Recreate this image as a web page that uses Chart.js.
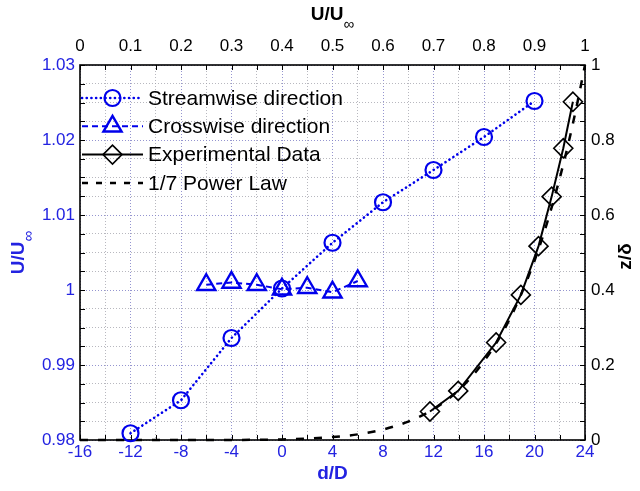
<!DOCTYPE html>
<html>
<head>
<meta charset="utf-8">
<script src="https://cdn.jsdelivr.net/npm/chart.js@4.4.0/dist/chart.umd.min.js"></script>
<style>
  html, body { margin: 0; padding: 0; background: #ffffff; }
  #wrap { width: 640px; height: 491px; }
</style>
</head>
<body>
<div id="wrap"><canvas id="chart" width="640" height="491"></canvas></div>
<script>
// Streamwise / crosswise velocity ratio against d/D (bottom & left axes)
const streamD = [-12, -8, -4, 0, 4, 8, 12, 16, 20];
const streamU = [0.9809, 0.9853, 0.9936, 1.0002, 1.0063, 1.0117, 1.0160, 1.0204, 1.0252];

const crossD = [-6, -4, -2, 0, 2, 4, 6];
const crossU = [1.0007, 1.0010, 1.0007, 1.0001, 1.0003, 0.9997, 1.0012];

// Boundary-layer profile z/delta against U/U_inf (top & right axes)
const expU = [0.693, 0.749, 0.824, 0.873, 0.908, 0.934, 0.957, 0.976];
const expZ = [0.076, 0.131, 0.260, 0.387, 0.517, 0.649, 0.778, 0.902];

const powerU = [0, 0.2, 0.3, 0.4, 0.5, 0.55, 0.6, 0.65, 0.7, 0.75, 0.8, 0.85, 0.9, 0.93, 0.96, 0.98, 1.0];
const powerZ = [0, 0, 0.0002, 0.0016, 0.008, 0.015, 0.028, 0.049, 0.082, 0.133, 0.21, 0.32, 0.478, 0.602, 0.751, 0.868, 1.0];

// Tick labels
const dTickValues = [-16, -12, -8, -4, 0, 4, 8, 12, 16, 20, 24];
const dTickLabels = ['-16', '-12', '-8', '-4', '0', '4', '8', '12', '16', '20', '24'];
const uTickValues = [0.98, 0.99, 1.00, 1.01, 1.02, 1.03];
const uTickLabels = ['0.98', '0.99', '1', '1.01', '1.02', '1.03'];
const topTickValues = [0, 0.1, 0.2, 0.3, 0.4, 0.5, 0.6, 0.7, 0.8, 0.9, 1];
const topTickLabels = ['0', '0.1', '0.2', '0.3', '0.4', '0.5', '0.6', '0.7', '0.8', '0.9', '1'];
const zTickValues = [0, 0.2, 0.4, 0.6, 0.8, 1];
const zTickLabels = ['0', '0.2', '0.4', '0.6', '0.8', '1'];

const legendLabels = ['Streamwise direction', 'Crosswise direction', 'Experimental Data', '1/7 Power Law'];

const BLUE = 'rgb(0,0,235)';
const BLUE_TEXT = 'rgb(35,35,225)';
const FONT = "'Liberation Sans', Arial, Helvetica, sans-serif";
const TICK_SIZE = 17;

// evenly spaced grid positions between min and max
function gridSteps(min, max, n) {
  const out = [];
  for (let i = 0; i <= n; i++) out.push(min + (max - min) * i / n);
  return out;
}
const dGrid = gridSteps(-16, 24, 20);
const uGrid = gridSteps(0.98, 1.03, 20);
const topGrid = gridSteps(0, 1, 20);
const zGrid = gridSteps(0, 1, 20);

function near(a, b) { return Math.abs(a - b) < 1e-7; }
function labelFor(values, labels) {
  return v => {
    const i = values.findIndex(m => near(m, v));
    return i >= 0 ? labels[i] : '';
  };
}
function isMajor(values, v) { return values.some(m => near(m, v)); }

const MAJOR_GRID = 'rgba(130,130,200,0.85)';
const MINOR_GRID = 'rgba(160,160,170,0.75)';

const toPts = (xs, ys) => xs.map((x, i) => ({ x: x, y: ys[i] }));

const datasets = [
  {
    label: legendLabels[0],
    data: toPts(streamD, streamU),
    xAxisID: 'x', yAxisID: 'y',
    showLine: true,
    borderColor: BLUE, borderWidth: 2.6,
    borderDash: [0.1, 4.6], borderCapStyle: 'round',
    pointStyle: 'circle', pointRadius: 8, pointBorderWidth: 2.2,
    pointBorderColor: BLUE, pointBackgroundColor: 'rgba(0,0,0,0)',
    tension: 0, clip: false, order: 1
  },
  {
    label: legendLabels[1],
    data: toPts(crossD, crossU),
    xAxisID: 'x', yAxisID: 'y',
    showLine: true,
    borderColor: BLUE, borderWidth: 2,
    borderDash: [6, 4],
    pointStyle: 'triangle', pointRadius: 10.5, pointBorderWidth: 2.4,
    pointBorderColor: BLUE, pointBackgroundColor: 'rgba(0,0,0,0)',
    tension: 0, clip: false, order: 2
  },
  {
    label: legendLabels[2],
    data: toPts(expU, expZ),
    xAxisID: 'x2', yAxisID: 'y2',
    showLine: true,
    borderColor: '#000000', borderWidth: 2,
    pointStyle: 'rectRot', pointRadius: 9.5, pointBorderWidth: 1.6,
    pointBorderColor: '#000000', pointBackgroundColor: 'rgba(0,0,0,0)',
    tension: 0, clip: false, order: 3
  },
  {
    label: legendLabels[3],
    data: toPts(powerU, powerZ),
    xAxisID: 'x2', yAxisID: 'y2',
    showLine: true,
    borderColor: '#000000', borderWidth: 2.5,
    borderDash: [8, 10],
    pointRadius: 0, pointHoverRadius: 0,
    cubicInterpolationMode: 'monotone', clip: false, order: 4
  }
];

// legend sample dash patterns (shorter than on the plot)
const legendDash = [[0.1, 4.6], [6, 4], [], [6, 8]];

// simple marker shapes for the legend samples
function drawMarker(ctx, style, x, y, r, color, width) {
  ctx.save();
  ctx.strokeStyle = color;
  ctx.lineWidth = width;
  ctx.setLineDash([]);
  ctx.beginPath();
  if (style === 'circle') {
    ctx.arc(x, y, r, 0, Math.PI * 2);
  } else if (style === 'triangle') {
    for (let k = 0; k < 3; k++) {
      const a = k * 2 * Math.PI / 3;
      const px = x + Math.sin(a) * r, py = y - Math.cos(a) * r;
      if (k === 0) ctx.moveTo(px, py); else ctx.lineTo(px, py);
    }
    ctx.closePath();
  } else if (style === 'rectRot') {
    ctx.moveTo(x - r, y); ctx.lineTo(x, y - r); ctx.lineTo(x + r, y); ctx.lineTo(x, y + r);
    ctx.closePath();
  }
  ctx.stroke();
  ctx.restore();
}

// text with a subscript infinity, e.g. U/U∞
function subscriptTitle(ctx, main, sub, size, color) {
  ctx.font = 'bold ' + size + 'px ' + FONT;
  const w1 = ctx.measureText(main).width;
  ctx.font = Math.round(size * 0.8) + 'px ' + FONT;
  const w2 = ctx.measureText(sub).width;
  const total = w1 + w2;
  ctx.fillStyle = color;
  ctx.textBaseline = 'middle';
  ctx.textAlign = 'left';
  ctx.font = 'bold ' + size + 'px ' + FONT;
  ctx.fillText(main, -total / 2, 0);
  ctx.font = Math.round(size * 0.8) + 'px ' + FONT;
  ctx.fillText(sub, -total / 2 + w1, size * 0.5);
}

const decor = {
  id: 'decor',
  beforeDatasetsDraw(chart) {
    const ctx = chart.ctx;
    const a = chart.chartArea;
    const s = chart.scales;
    ctx.save();
    ctx.strokeStyle = '#000000';
    ctx.lineWidth = 1;
    ctx.setLineDash([]);
    const TL = 5;
    ctx.beginPath();
    dGrid.forEach(v => { const p = Math.round(s.x.getPixelForValue(v)) + 0.5; ctx.moveTo(p, a.bottom); ctx.lineTo(p, a.bottom - TL); });
    topGrid.forEach(v => { const p = Math.round(s.x2.getPixelForValue(v)) + 0.5; ctx.moveTo(p, a.top); ctx.lineTo(p, a.top + TL); });
    uGrid.forEach(v => { const p = Math.round(s.y.getPixelForValue(v)) + 0.5; ctx.moveTo(a.left, p); ctx.lineTo(a.left + TL, p); });
    zGrid.forEach(v => { const p = Math.round(s.y2.getPixelForValue(v)) + 0.5; ctx.moveTo(a.right, p); ctx.lineTo(a.right - TL, p); });
    ctx.stroke();
    ctx.lineWidth = 1.6;
    ctx.strokeRect(a.left, a.top, a.right - a.left, a.bottom - a.top);
    ctx.restore();
  },
  afterDraw(chart) {
    const ctx = chart.ctx;
    const a = chart.chartArea;
    const cx = (a.left + a.right) / 2;
    const cy = (a.top + a.bottom) / 2;

    // axis titles
    ctx.save();
    ctx.translate(cx, 15);
    subscriptTitle(ctx, 'U/U', '\u221E', 19, '#000000');
    ctx.restore();

    ctx.save();
    ctx.translate(19, cy);
    ctx.rotate(-Math.PI / 2);
    subscriptTitle(ctx, 'U/U', '\u221E', 19, BLUE_TEXT);
    ctx.restore();

    ctx.save();
    ctx.font = 'bold 19px ' + FONT;
    ctx.fillStyle = BLUE_TEXT;
    ctx.textAlign = 'center';
    ctx.textBaseline = 'middle';
    ctx.fillText('d/D', cx, 474);
    ctx.restore();

    ctx.save();
    ctx.translate(626, cy + 4);
    ctx.rotate(-Math.PI / 2);
    ctx.font = 'bold 19px ' + FONT;
    ctx.fillStyle = '#000000';
    ctx.textAlign = 'center';
    ctx.textBaseline = 'middle';
    ctx.fillText('z/\u03B4', 0, 0);
    ctx.restore();

    // legend
    const rowY0 = 98, rowGap = 28.3;
    const x0 = 82, x1 = 143, xm = 112.5, tx = 148;
    chart.data.datasets.forEach((ds, i) => {
      const y = rowY0 + rowGap * i;
      ctx.save();
      ctx.strokeStyle = ds.borderColor;
      ctx.lineWidth = ds.borderWidth;
      ctx.lineCap = ds.borderCapStyle || 'butt';
      ctx.setLineDash(legendDash[i]);
      ctx.beginPath();
      ctx.moveTo(x0, y); ctx.lineTo(x1, y);
      ctx.stroke();
      ctx.restore();
      if (ds.pointRadius > 0) {
        drawMarker(ctx, ds.pointStyle, xm, y, ds.pointRadius, ds.pointBorderColor, ds.pointBorderWidth);
      }
      ctx.save();
      ctx.font = '21px ' + FONT;
      ctx.fillStyle = '#000000';
      ctx.textAlign = 'left';
      ctx.textBaseline = 'middle';
      ctx.fillText(ds.label, tx, y + 1);
      ctx.restore();
    });
  }
};

function makeTicks(grid) {
  return scale => { scale.ticks = grid.map(v => ({ value: v })); };
}

const chart = new Chart(document.getElementById('chart'), {
  type: 'scatter',
  data: { datasets: datasets },
  options: {
    responsive: false,
    animation: false,
    devicePixelRatio: 1,
    layout: { padding: 0 },
    plugins: {
      legend: { display: false },
      tooltip: { enabled: false },
      title: { display: false }
    },
    scales: {
      x: {
        type: 'linear', position: 'bottom', min: -16, max: 24,
        afterBuildTicks: makeTicks(dGrid),
        afterFit: s => { s.height = 51; },
        ticks: {
          autoSkip: false, maxRotation: 0, minRotation: 0, padding: 2,
          color: BLUE_TEXT, font: { family: FONT, size: TICK_SIZE },
          callback: labelFor(dTickValues, dTickLabels)
        },
        grid: {
          drawTicks: false, lineWidth: 1,
          color: c => (c.tick && isMajor(dTickValues, c.tick.value)) ? MAJOR_GRID : MINOR_GRID
        },
        border: { display: false, dash: [1, 2] }
      },
      y: {
        type: 'linear', position: 'left', min: 0.98, max: 1.03,
        afterBuildTicks: makeTicks(uGrid),
        afterFit: s => { s.width = 80; },
        ticks: {
          autoSkip: false, padding: 5,
          color: BLUE_TEXT, font: { family: FONT, size: TICK_SIZE },
          callback: labelFor(uTickValues, uTickLabels)
        },
        grid: {
          drawTicks: false, lineWidth: 1,
          color: c => (c.tick && isMajor(uTickValues, c.tick.value)) ? MAJOR_GRID : MINOR_GRID
        },
        border: { display: false, dash: [1, 2] }
      },
      x2: {
        type: 'linear', position: 'top', min: 0, max: 1,
        afterBuildTicks: makeTicks(topTickValues),
        afterFit: s => { s.height = 65; },
        ticks: {
          autoSkip: false, maxRotation: 0, minRotation: 0, padding: 8,
          color: '#000000', font: { family: FONT, size: TICK_SIZE },
          callback: labelFor(topTickValues, topTickLabels)
        },
        grid: { display: false, drawTicks: false },
        border: { display: false }
      },
      y2: {
        type: 'linear', position: 'right', min: 0, max: 1,
        afterBuildTicks: makeTicks(zTickValues),
        afterFit: s => { s.width = 55; },
        ticks: {
          autoSkip: false, padding: 6,
          color: '#000000', font: { family: FONT, size: TICK_SIZE },
          callback: labelFor(zTickValues, zTickLabels)
        },
        grid: { display: false, drawTicks: false },
        border: { display: false }
      }
    }
  },
  plugins: [decor]
});
</script>
</body>
</html>
